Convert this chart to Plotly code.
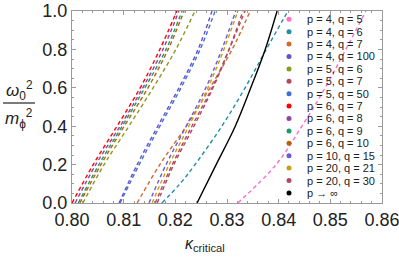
import plotly.graph_objects as go

# ---- data ----
y6 = [0.0, 0.2, 0.4, 0.6, 0.8, 1.0]
y7 = [0.0, 0.1, 0.2, 0.4, 0.6, 0.8, 1.0]

labels = ["p = 4, q = 5", "p = 4, q = 6", "p = 4, q = 7", "p = 4, q = 100",
          "p = 5, q = 6", "p = 5, q = 7", "p = 5, q = 50", "p = 6, q = 7",
          "p = 6, q = 8", "p = 6, q = 9", "p = 6, q = 10", "p = 10, q = 15",
          "p = 20, q = 21", "p = 20, q = 30", "p \u2192 \u221e"]
colors = ["#FF6EC7", "#1E8FA6", "#D2692E", "#6A4FC8", "#8A9A1B", "#B5475F",
          "#3F6FD8", "#FF0000", "#8E44A0", "#1F9A6E", "#B8600A", "#6A5ADD",
          "#C8A010", "#B04A60", "#000000"]

k_p4q5 = [0.8321, 0.8395, 0.8445, 0.8490, 0.8530, 0.8569]
k_p4q6 = [0.8174, 0.8209, 0.8238, 0.8290, 0.8335, 0.8376, 0.8418]
k_p4q7 = [0.8126, 0.8170, 0.8221, 0.8267, 0.8310, 0.8345]
k_p4q100 = [0.8091, 0.8126, 0.8166, 0.8207, 0.8244, 0.8271]
k_p5q6 = [0.8021, 0.8062, 0.8110, 0.8157, 0.8201, 0.8238]
k_p5q7 = [0.8161, 0.8194, 0.8232, 0.8271, 0.8304, 0.8335]
k_p5q50 = [0.8093, 0.8130, 0.8170, 0.8211, 0.8248, 0.8277]
k_p6q7 = [0.8000, 0.8041, 0.8087, 0.8132, 0.8170, 0.8203]
k_p6q8 = [0.8006, 0.8046, 0.8093, 0.8137, 0.8176, 0.8207]
k_p6q9 = [0.8012, 0.8052, 0.8097, 0.8141, 0.8182, 0.8213]
k_p6q10 = [0.8015, 0.8056, 0.8101, 0.8147, 0.8186, 0.8217]
k_p10q15 = [0.8149, 0.8182, 0.8221, 0.8259, 0.8290, 0.8317]
k_p20q21 = [0.8155, 0.8188, 0.8226, 0.8263, 0.8294, 0.8321]
k_p20q30 = [0.8165, 0.8197, 0.8236, 0.8273, 0.8304, 0.8331]
k_inf = [0.8242, 0.8279, 0.8316, 0.8346, 0.8374, 0.8397]

curves = [k_p4q5, k_p4q6, k_p4q7, k_p4q100, k_p5q6, k_p5q7, k_p5q50, k_p6q7,
          k_p6q8, k_p6q9, k_p6q10, k_p10q15, k_p20q21, k_p20q30, k_inf]

x_ticks = [0.80, 0.81, 0.82, 0.83, 0.84, 0.85, 0.86]
y_ticks = [0.0, 0.2, 0.4, 0.6, 0.8, 1.0]

FONT = "Liberation Sans, Arial, sans-serif"
W, H = 399, 261
L, R, T, B = 72, 17, 11, 58
pw, ph = W - L - R, H - T - B

fig = go.Figure()
for lab, col, ks in zip(labels, colors, curves):
    ys = y7 if len(ks) == len(y7) else y6
    fig.add_trace(go.Scatter(
        x=ks, y=ys, mode="lines", name=lab, showlegend=False,
        line=dict(color=col, width=1.4, shape="spline",
                  dash="solid" if lab.startswith("p \u2192") else "4px,3px")))

# legend (dots + text), drawn manually to match compact spacing
row0, step = 19.3, 12.4
leg_y = [(H - B - (row0 + i * step)) / ph for i in range(len(labels))]
dot_x = (289 - L) / pw
text_x = (305 - L) / pw
fig.add_trace(go.Scatter(
    x=[dot_x] * len(labels), y=leg_y, mode="markers", xaxis="x2", yaxis="y2",
    marker=dict(color=colors, size=5), showlegend=False, hoverinfo="skip"))
for lab, yy in zip(labels, leg_y):
    fig.add_annotation(x=text_x, y=yy, xref="paper", yref="paper", text=lab,
                       showarrow=False, xanchor="left", yanchor="middle",
                       font=dict(family=FONT, size=11, color="#222"))

# y-axis title as a fraction
fig.add_annotation(x=(19 - L) / pw, y=(H - B - 90) / ph, xref="paper", yref="paper",
                   text="<i>\u03c9</i><sub>0</sub><sup>2</sup>", showarrow=False,
                   xanchor="center", yanchor="middle",
                   font=dict(family=FONT, size=17, color="#222"))
fig.add_annotation(x=(19 - L) / pw, y=(H - B - 118) / ph, xref="paper", yref="paper",
                   text="<i>m</i><sub>\u03d5</sub><sup>2</sup>", showarrow=False,
                   xanchor="center", yanchor="middle",
                   font=dict(family=FONT, size=17, color="#222"))
fig.add_shape(type="line", xref="paper", yref="paper",
              x0=(3 - L) / pw, x1=(35 - L) / pw,
              y0=(H - B - 103) / ph, y1=(H - B - 103) / ph,
              line=dict(color="#222", width=1.2))
# x-axis title
fig.add_annotation(x=(205 - L) / pw, y=(H - B - 244) / ph, xref="paper", yref="paper",
                   text="<i>\u03ba</i><sub>critical</sub>", showarrow=False,
                   xanchor="center", yanchor="middle",
                   font=dict(family=FONT, size=16, color="#222"))

axis_common = dict(showline=True, linecolor="#9a9a9a", linewidth=1, mirror="allticks",
                   ticks="inside", ticklen=4, tickcolor="#9a9a9a", showgrid=False,
                   zeroline=False, automargin=False, ticklabeloverflow="allow",
                   tickfont=dict(family=FONT, size=18, color="#222"))
fig.update_layout(
    width=W, height=H, margin=dict(l=L, r=R, t=T, b=B, autoexpand=False),
    plot_bgcolor="white", paper_bgcolor="white",
    xaxis=dict(range=[0.79999, 0.86001], tickvals=x_ticks,
               ticktext=[f"{v:.2f}" for v in x_ticks],
               minor=dict(ticks="inside", ticklen=2, dtick=0.002, tickcolor="#9a9a9a"),
               **axis_common),
    yaxis=dict(range=[-0.00001, 1.00001], tickvals=y_ticks,
               ticktext=[f"{v:.1f}" for v in y_ticks],
               minor=dict(ticks="inside", ticklen=2, dtick=0.05, tickcolor="#9a9a9a"),
               **axis_common),
    xaxis2=dict(range=[0, 1], overlaying="x", visible=False),
    yaxis2=dict(range=[0, 1], overlaying="y", visible=False),
)
fig.write_html("out.html", config={"displayModeBar": False},
               post_script="document.body.style.margin='0';document.body.style.overflow='hidden';")
